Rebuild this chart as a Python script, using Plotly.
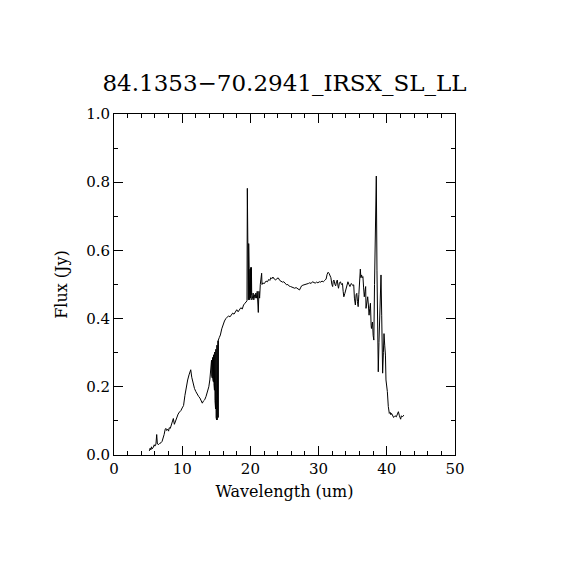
import plotly.graph_objects as go

# spectrum
wavelength = [
    5.18, 5.3, 5.4, 5.5, 5.6, 5.75, 5.9, 6.0, 6.15, 6.26, 6.35, 6.5, 6.7, 6.9,
    7.05, 7.2, 7.35, 7.5, 7.6, 7.7, 7.85, 8.0, 8.1, 8.25, 8.4, 8.55, 8.7, 8.85,
    9.0, 9.2, 9.4, 9.6, 9.8, 10.0, 10.2, 10.4, 10.6, 10.8, 11.0, 11.15, 11.25,
    11.4, 11.6, 11.8, 12.0, 12.2, 12.4, 12.6, 12.8, 12.95, 13.1, 13.3, 13.5,
    13.7, 13.9, 14.05, 14.2,
    14.3, 14.33, 14.37, 14.41, 14.45, 14.49, 14.53, 14.57, 14.61, 14.65, 14.69,
    14.73, 14.77, 14.81, 14.85, 14.89, 14.93, 14.97, 15.01, 15.05, 15.09, 15.13,
    15.17, 15.21, 15.25, 15.28, 15.3,
    15.45, 15.6, 15.8, 16.0, 16.2, 16.4, 16.6, 16.8, 17.0, 17.2, 17.4, 17.6,
    17.8, 18.0, 18.2, 18.4, 18.6, 18.8, 19.0, 19.2, 19.4, 19.5,
    19.55, 19.6, 19.65, 19.7, 19.75, 19.8, 19.85, 19.9, 19.95, 20.0, 20.05,
    20.1, 20.15, 20.2, 20.25, 20.3, 20.4, 20.5, 20.6, 20.7, 20.8, 20.9, 21.0,
    21.1, 21.16, 21.25, 21.35, 21.45, 21.55, 21.65, 21.7, 21.85,
    22.0, 22.15, 22.3, 22.5, 22.7, 22.85, 23.0, 23.15, 23.3, 23.5, 23.7, 23.9,
    24.1, 24.3, 24.5, 24.7, 24.9, 25.1, 25.3, 25.5, 25.7, 25.9, 26.1, 26.3,
    26.5, 26.7, 26.9, 27.1, 27.2, 27.35, 27.5, 27.7, 27.9, 28.1, 28.3, 28.5,
    28.7, 28.9, 29.1, 29.3, 29.5, 29.7, 29.9, 30.1, 30.3, 30.5, 30.7, 30.9,
    31.1, 31.25, 31.4, 31.55, 31.7, 31.8, 31.95, 32.06, 32.15, 32.25, 32.4,
    32.5, 32.62, 32.74, 32.85, 32.92, 33.05, 33.2, 33.35, 33.5, 33.6, 33.7,
    33.85, 34.0, 34.15, 34.3, 34.45, 34.6, 34.7, 34.8, 35.0, 35.15, 35.25,
    35.39, 35.5, 35.6, 35.7, 35.8, 35.9, 36.0, 36.12, 36.2, 36.3, 36.4, 36.5,
    36.6, 36.7, 36.8, 36.9, 36.95, 37.05, 37.2, 37.3, 37.4, 37.5, 37.6, 37.7,
    37.75, 37.85, 37.9, 38.0, 38.1, 38.2, 38.27, 38.35, 38.46, 38.56, 38.66,
    38.75, 38.85, 39.0, 39.15, 39.25, 39.39, 39.5, 39.59, 39.7, 39.8, 39.88,
    40.0, 40.08, 40.22, 40.3, 40.37, 40.5, 40.6, 40.7, 40.85, 41.0, 41.06,
    41.2, 41.4, 41.55, 41.7, 41.85, 42.03, 42.15, 42.3, 42.5,
]
flux = [
    0.012, 0.02, 0.015, 0.024, 0.018, 0.022, 0.03, 0.026, 0.032, 0.06, 0.035,
    0.03, 0.034, 0.036, 0.04, 0.048, 0.06, 0.075, 0.078, 0.072, 0.076, 0.07,
    0.08, 0.078, 0.09, 0.095, 0.107, 0.09, 0.1, 0.11, 0.12, 0.126, 0.13, 0.138,
    0.145, 0.175, 0.205, 0.22, 0.235, 0.245, 0.25, 0.228, 0.21, 0.195, 0.186,
    0.178, 0.172, 0.167, 0.16, 0.152, 0.158, 0.162, 0.172, 0.185, 0.2, 0.22,
    0.255,
    0.278, 0.23, 0.282, 0.226, 0.286, 0.222, 0.29, 0.215, 0.294, 0.21, 0.298,
    0.19, 0.302, 0.16, 0.306, 0.135, 0.31, 0.11, 0.315, 0.103, 0.322, 0.103,
    0.328, 0.105, 0.335, 0.11, 0.337,
    0.345, 0.352, 0.37, 0.386, 0.393, 0.4, 0.403, 0.408, 0.405, 0.412, 0.416,
    0.413, 0.422, 0.426, 0.42, 0.428, 0.432, 0.428, 0.44, 0.445, 0.45, 0.452,
    0.782, 0.46, 0.62, 0.455, 0.62, 0.46, 0.55, 0.455, 0.545, 0.46, 0.55,
    0.47, 0.55, 0.455, 0.53, 0.46, 0.475, 0.455, 0.47, 0.46, 0.475, 0.46, 0.48,
    0.45, 0.418, 0.48, 0.46, 0.5, 0.52, 0.533, 0.5, 0.505,
    0.502, 0.506, 0.51, 0.508, 0.515, 0.512, 0.52, 0.517, 0.522, 0.516, 0.513,
    0.518, 0.519, 0.512, 0.51, 0.507, 0.508, 0.503, 0.499, 0.5, 0.495, 0.494,
    0.492, 0.49, 0.489, 0.491, 0.487, 0.484, 0.484, 0.49, 0.496, 0.498, 0.499,
    0.5, 0.5, 0.503, 0.505, 0.503, 0.508, 0.507, 0.504, 0.507, 0.505, 0.508,
    0.507, 0.51, 0.508, 0.512, 0.516, 0.53, 0.536, 0.532, 0.527, 0.52, 0.5,
    0.494, 0.51, 0.513, 0.5, 0.496, 0.508, 0.513, 0.495, 0.489, 0.504, 0.508,
    0.5, 0.503, 0.48, 0.464, 0.474, 0.484, 0.5, 0.508, 0.5, 0.494, 0.5, 0.503,
    0.497, 0.499, 0.46, 0.44, 0.47, 0.474, 0.45, 0.435, 0.47, 0.494, 0.545,
    0.52, 0.528, 0.52, 0.523, 0.49, 0.464, 0.48, 0.494, 0.43, 0.45, 0.464,
    0.44, 0.41, 0.43, 0.445, 0.38, 0.371, 0.385, 0.39, 0.35, 0.337, 0.5, 0.611,
    0.59, 0.818, 0.54, 0.298, 0.244, 0.33, 0.435, 0.528, 0.41, 0.24, 0.3,
    0.356, 0.32, 0.293, 0.22, 0.2, 0.186, 0.142, 0.125, 0.122, 0.125, 0.118,
    0.122, 0.115, 0.11, 0.112, 0.115, 0.112, 0.118, 0.127, 0.115, 0.105, 0.115,
    0.112, 0.117,
]

title_text = "84.1353\u221270.2941_IRSX_SL_LL"
x_ticks = [0, 10, 20, 30, 40, 50]
y_ticks = [0.0, 0.2, 0.4, 0.6, 0.8, 1.0]

serif = "DejaVu Serif"

fig = go.Figure()
fig.add_trace(go.Scatter(x=wavelength, y=flux, mode="lines",
                         line=dict(color="black", width=1), showlegend=False))

axis_common = dict(
    showgrid=False, zeroline=False, showline=True, linecolor="black",
    linewidth=1, mirror="ticks", ticks="inside", tickcolor="black",
    ticklen=9, tickwidth=1,
    tickfont=dict(family=serif, size=15, color="black"),
)

fig.update_xaxes(
    range=[0, 50], tickvals=x_ticks, ticktext=[str(v) for v in x_ticks],
    minor=dict(ticks="inside", dtick=2, ticklen=4, tickcolor="black"),
    title=dict(text="Wavelength (um)", font=dict(family=serif, size=16, color="black"),
               standoff=8),
    **axis_common,
)
fig.update_yaxes(
    range=[0, 1.0], tickvals=y_ticks, ticktext=["%.1f" % v for v in y_ticks],
    minor=dict(ticks="inside", dtick=0.1, ticklen=4, tickcolor="black"),
    title=dict(text="Flux (Jy)", font=dict(family=serif, size=16, color="black"),
               standoff=14),
    **axis_common,
)

# the page body has an 8px margin, so margins are offset to put the
# plot box where the reference has it
fig.update_layout(
    width=570, height=570,
    margin=dict(l=106, r=123, t=106, b=123),
    plot_bgcolor="white", paper_bgcolor="white",
    title=dict(text=title_text, x=0.5, xanchor="center", xref="paper",
               y=1 - 75 / 570, yref="container", yanchor="middle",
               font=dict(family=serif, size=23, color="black")),
)

fig.write_html("out.html")
